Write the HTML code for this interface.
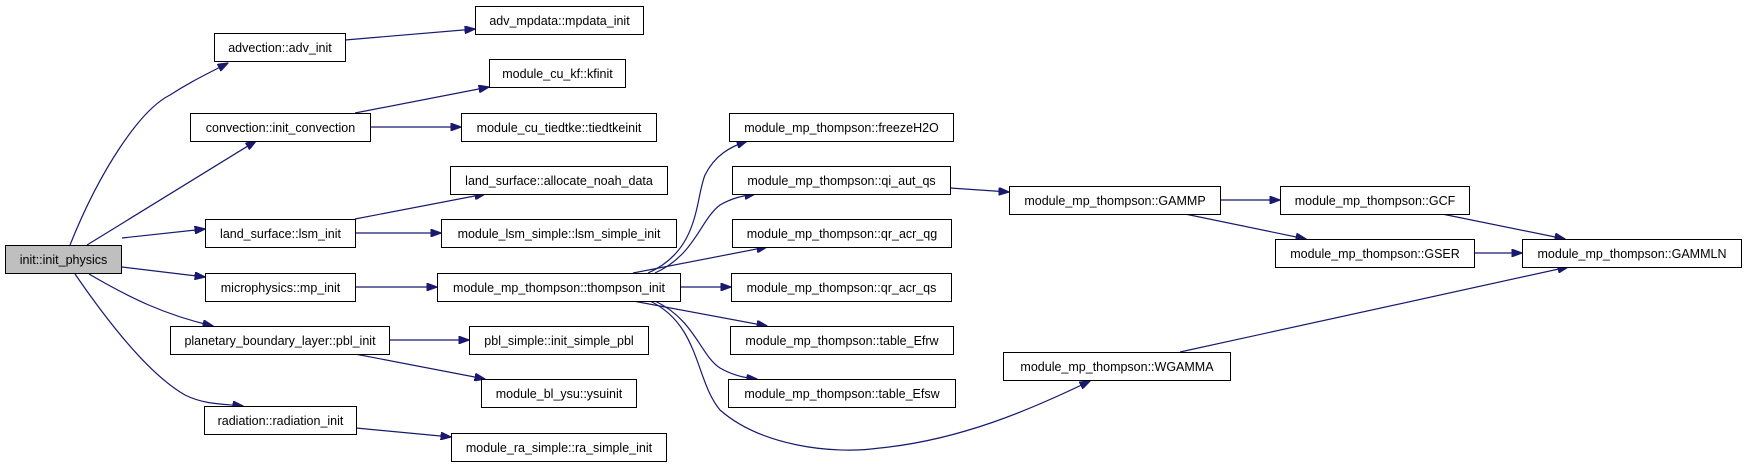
<!DOCTYPE html>
<html><head><meta charset="utf-8"><style>
html,body{margin:0;padding:0;background:#fff;}
svg{display:block;}
text{font-family:"Liberation Sans",Arial,sans-serif;font-size:12.5px;fill:#000;}
</style></head><body>
<svg width="1747" height="467" viewBox="0 0 1747 467" xmlns="http://www.w3.org/2000/svg">
<defs>
<marker id="a" markerWidth="11" markerHeight="8" refX="10.5" refY="4" orient="auto" markerUnits="userSpaceOnUse">
<path d="M0,0 L11,4 L0,8 Z" fill="#191970" stroke="#191970" stroke-width="1"/>
</marker>
</defs>
<g fill="none" stroke="#191970" stroke-width="1.2" marker-end="url(#a)">
<path d="M70,245 C100,170 140,110 170,95 C190,82 205,75 228,63"/>
<path d="M87,245 L256,141"/>
<path d="M122,238 L205,229"/>
<path d="M122,267 L205,277"/>
<path d="M89,274 C130,298 165,315 213,326"/>
<path d="M75,274 C110,325 150,375 185,395 C205,405 225,404 243,406"/>
<path d="M345,40 L475,29"/>
<path d="M355,113 L489,87"/>
<path d="M370,127 L461,127"/>
<path d="M355,219 L485,194"/>
<path d="M355,233 L441,233"/>
<path d="M355,287 L437,287"/>
<path d="M389,340 L469,340"/>
<path d="M355,354 L485,379"/>
<path d="M356,428 L451,437"/>
<path d="M648,273 C700,250 695,200 705,175 C715,155 730,147 747,141"/>
<path d="M655,273 C695,255 700,220 720,205 C732,198 742,196 755,194"/>
<path d="M633,273 L767,247"/>
<path d="M680,287 L731,287"/>
<path d="M633,301 L767,326"/>
<path d="M655,301 C695,320 700,355 720,368 C732,375 744,378 757,379"/>
<path d="M650,301 C700,325 695,380 720,410 C760,445 830,455 880,448 C960,440 1030,410 1090,381"/>
<path d="M950,188 L1009,192"/>
<path d="M1220,200 L1280,200"/>
<path d="M1185,214 L1306,239"/>
<path d="M1442,214 L1565,239"/>
<path d="M1474,253 L1522,253"/>
<path d="M1180,352 L1568,267"/>
</g>
<g stroke="#000" stroke-width="1" fill="#fff">
<rect x="5.5" y="245.5" width="116" height="28" fill="#bfbfbf"/>
<rect x="214.5" y="33.5" width="131" height="28"/>
<rect x="475.5" y="6.5" width="168" height="28"/>
<rect x="190.5" y="113.5" width="180" height="28"/>
<rect x="489.5" y="59.5" width="136" height="28"/>
<rect x="461.5" y="113.5" width="195" height="28"/>
<rect x="450.5" y="166.5" width="217" height="28"/>
<rect x="205.5" y="219.5" width="150" height="28"/>
<rect x="441.5" y="219.5" width="235" height="28"/>
<rect x="205.5" y="273.5" width="150" height="28"/>
<rect x="437.5" y="273.5" width="243" height="28"/>
<rect x="170.5" y="326.5" width="219" height="28"/>
<rect x="469.5" y="326.5" width="179" height="28"/>
<rect x="481.5" y="379.5" width="155" height="28"/>
<rect x="204.5" y="406.5" width="152" height="28"/>
<rect x="451.5" y="433.5" width="215" height="28"/>
<rect x="729.5" y="113.5" width="224" height="28"/>
<rect x="732.5" y="166.5" width="218" height="28"/>
<rect x="732.5" y="219.5" width="219" height="28"/>
<rect x="731.5" y="273.5" width="220" height="28"/>
<rect x="730.5" y="326.5" width="223" height="28"/>
<rect x="728.5" y="379.5" width="227" height="28"/>
<rect x="1009.5" y="186.5" width="211" height="28"/>
<rect x="1003.5" y="352.5" width="227" height="28"/>
<rect x="1280.5" y="186.5" width="189" height="28"/>
<rect x="1275.5" y="239.5" width="199" height="28"/>
<rect x="1522.5" y="239.5" width="219" height="28"/>
</g>
<g text-anchor="middle">
<text x="63.5" y="264">init::init_physics</text>
<text x="280" y="52">advection::adv_init</text>
<text x="559.5" y="25">adv_mpdata::mpdata_init</text>
<text x="280.5" y="132">convection::init_convection</text>
<text x="557.5" y="78">module_cu_kf::kfinit</text>
<text x="559" y="132">module_cu_tiedtke::tiedtkeinit</text>
<text x="559" y="185">land_surface::allocate_noah_data</text>
<text x="280.5" y="238">land_surface::lsm_init</text>
<text x="559" y="238">module_lsm_simple::lsm_simple_init</text>
<text x="280.5" y="292">microphysics::mp_init</text>
<text x="559" y="292">module_mp_thompson::thompson_init</text>
<text x="280" y="345">planetary_boundary_layer::pbl_init</text>
<text x="559" y="345">pbl_simple::init_simple_pbl</text>
<text x="559" y="398">module_bl_ysu::ysuinit</text>
<text x="280.5" y="425">radiation::radiation_init</text>
<text x="559" y="452">module_ra_simple::ra_simple_init</text>
<text x="841.5" y="132">module_mp_thompson::freezeH2O</text>
<text x="841.5" y="185">module_mp_thompson::qi_aut_qs</text>
<text x="842" y="238">module_mp_thompson::qr_acr_qg</text>
<text x="841.5" y="292">module_mp_thompson::qr_acr_qs</text>
<text x="842" y="345">module_mp_thompson::table_Efrw</text>
<text x="842" y="398">module_mp_thompson::table_Efsw</text>
<text x="1115" y="205">module_mp_thompson::GAMMP</text>
<text x="1117" y="371">module_mp_thompson::WGAMMA</text>
<text x="1375" y="205">module_mp_thompson::GCF</text>
<text x="1375" y="258">module_mp_thompson::GSER</text>
<text x="1632" y="258">module_mp_thompson::GAMMLN</text>
</g>
</svg>
</body></html>
